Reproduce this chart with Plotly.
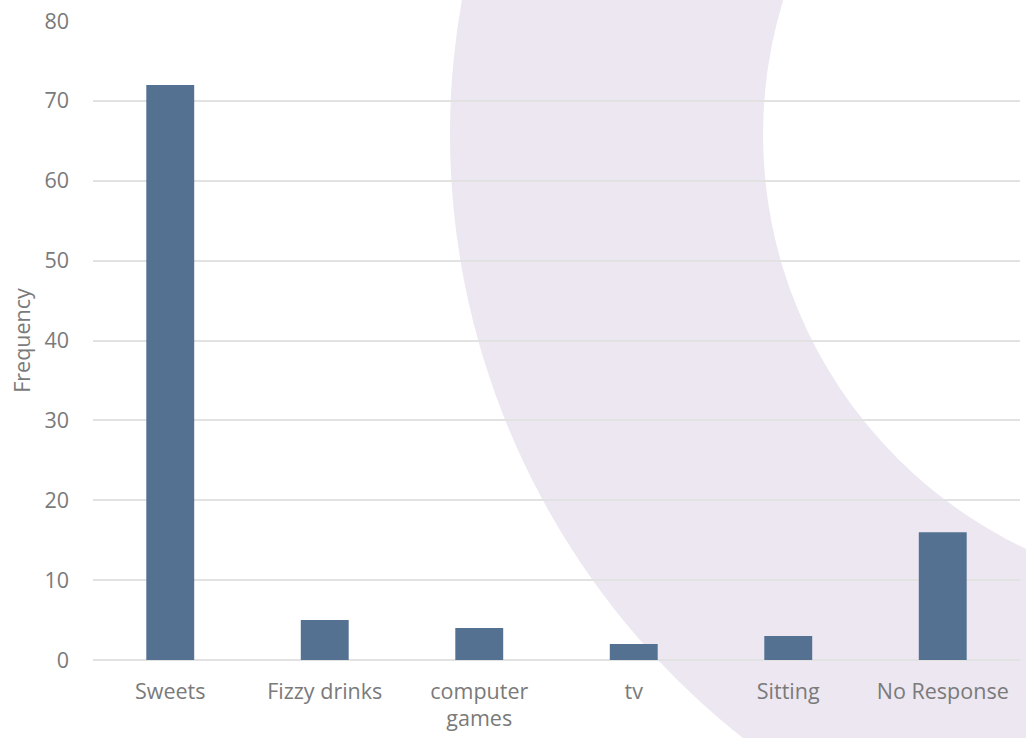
import plotly.graph_objects as go

categories = ["Sweets", "Fizzy drinks", "computer<br>games", "tv", "Sitting", "No Response"]
frequency = [72, 5, 4, 2, 3, 16]
y_ticks = [0, 10, 20, 30, 40, 50, 60, 70, 80]

W, H = 1026, 738
L, R, T, B = 93, 6, 18, 78
plot_w = W - L - R
plot_h = H - T - B

def px_to_paper_x(px):
    return (px - L) / plot_w

def px_to_paper_y(py):
    return (H - B - py) / plot_h

# decorative ring (background) in pixel terms
ring_cx, ring_cy = 1224, 132
ring_outer, ring_inner = 774, 461

TXT = "#7a7a7a"
FS = 21.5

fig = go.Figure()
fig.add_trace(go.Bar(
    x=categories, y=frequency, width=0.31,
    marker=dict(color="#557192", line=dict(width=0)),
))

shapes = [
    dict(type="circle", xref="paper", yref="paper", layer="below",
         x0=px_to_paper_x(ring_cx - ring_outer), x1=px_to_paper_x(ring_cx + ring_outer),
         y0=px_to_paper_y(ring_cy + ring_outer), y1=px_to_paper_y(ring_cy - ring_outer),
         fillcolor="#ECE7F0", line=dict(width=0)),
    dict(type="circle", xref="paper", yref="paper", layer="below",
         x0=px_to_paper_x(ring_cx - ring_inner), x1=px_to_paper_x(ring_cx + ring_inner),
         y0=px_to_paper_y(ring_cy + ring_inner), y1=px_to_paper_y(ring_cy - ring_inner),
         fillcolor="#FFFFFF", line=dict(width=0)),
]

fig.update_layout(
    width=W, height=H,
    margin=dict(l=L, r=R, t=T, b=B),
    paper_bgcolor="white", plot_bgcolor="rgba(0,0,0,0)",
    showlegend=False,
    shapes=shapes,
    font=dict(family="Open Sans", color=TXT, size=FS),
)
fig.update_xaxes(showgrid=False, showline=False, zeroline=False, ticks="",
                 tickfont=dict(size=FS, color=TXT), ticklabelstandoff=16)
fig.update_yaxes(range=[0, 80], tickvals=y_ticks, showgrid=True, gridcolor="#E2E2E2",
                 gridwidth=1.5, zeroline=True, zerolinecolor="#E2E2E2", zerolinewidth=1.5,
                 showline=False, ticks="", ticklabelstandoff=23,
                 tickfont=dict(size=FS, color=TXT),
                 title=dict(text="Frequency", font=dict(size=FS, color=TXT), standoff=7))

fig.write_html("out.html", config={"displayModeBar": False},
               post_script="document.body.style.margin='0';")
